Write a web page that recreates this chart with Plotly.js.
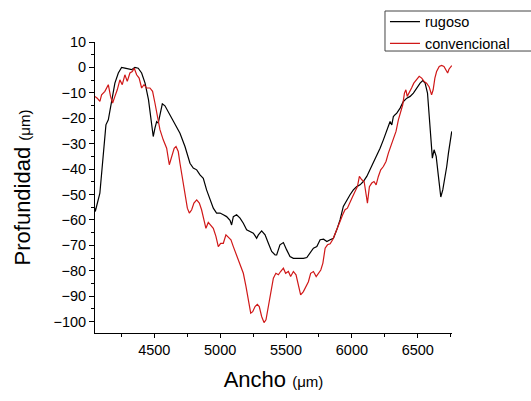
<!DOCTYPE html>
<html>
<head>
<meta charset="utf-8">
<script src="https://cdn.plot.ly/plotly-3.0.1.min.js"></script>
<style>html,body{margin:0;padding:0;background:#fff;}#chart{width:531px;height:401px;}</style>
</head>
<body>
<div id="chart"></div>
<script>
const rugosoX = [4049,4052,4087,4113,4133,4151,4176,4201,4227,4252,4277,4303,4328,4353,4378,4404,4430,4456,4472,4492,4505,4518,4530,4543,4561,4581,4619,4657,4695,4733,4771,4796,4822,4847,4872,4897,4923,4948,4973,4999,5024,5049,5075,5087,5100,5125,5151,5176,5201,5227,5252,5277,5290,5315,5341,5366,5391,5417,5429,5454,5480,5505,5530,5556,5581,5606,5632,5658,5683,5708,5734,5759,5785,5810,5835,5860,5885,5910,5935,5961,5986,6011,6037,6062,6087,6113,6138,6163,6189,6214,6239,6265,6290,6303,6315,6328,6341,6366,6391,6417,6442,6467,6492,6518,6538,6556,6574,6589,6599,6611,6624,6640,6657,6675,6690,6708,6720,6733,6746,6758];
const rugosoY = [-55.4,-56.7,-49.5,-35,-22.6,-20.6,-12.7,-6.2,-2.2,0,-0.3,-0.7,-0.9,0,-0.3,-2.2,-6.2,-12.7,-19.3,-27.2,-23.9,-21.3,-21.9,-18,-14.3,-15.1,-18.6,-22.6,-25.9,-31.1,-37.7,-39.6,-40.3,-42.3,-43.6,-48.2,-52.1,-55.4,-57.3,-57.3,-58,-58.7,-60.2,-62,-58.7,-58,-59.3,-61.3,-63.9,-64.6,-65.2,-67.2,-65.9,-64.3,-65.9,-69.2,-72.4,-73.8,-73.8,-69.8,-68.9,-71.8,-74.4,-75.1,-75.1,-75.3,-75.1,-74.8,-73.1,-71.1,-70.5,-67.8,-67.6,-68.5,-67.8,-67.2,-63.9,-60,-54.7,-52.1,-50.1,-48.2,-46.9,-46.2,-44.9,-42.9,-40.3,-37.7,-35,-31.8,-28.5,-24.5,-21.3,-22.6,-19.3,-18.6,-18,-16,-13.4,-12.1,-11.4,-10.1,-8.1,-6.2,-5.2,-6.2,-10.1,-19.3,-28.5,-35.7,-32.4,-35,-42.9,-51,-48.2,-42.9,-39,-33.7,-28.5,-25.2];

const convX = [4049,4067,4087,4100,4125,4151,4168,4184,4201,4219,4239,4257,4277,4295,4315,4333,4348,4366,4385,4404,4422,4442,4467,4487,4505,4523,4543,4568,4594,4614,4632,4651,4665,4682,4695,4715,4733,4751,4766,4784,4801,4822,4842,4859,4877,4892,4910,4928,4948,4968,4986,5004,5024,5044,5062,5082,5100,5125,5151,5176,5196,5214,5232,5247,5265,5282,5297,5315,5333,5348,5366,5384,5404,5423,5442,5459,5480,5497,5518,5535,5556,5576,5594,5611,5632,5652,5670,5687,5708,5729,5746,5764,5780,5797,5815,5835,5856,5873,5891,5910,5930,5948,5966,5986,6006,6024,6042,6057,6075,6093,6105,6118,6133,6151,6168,6184,6201,6219,6239,6259,6277,6295,6315,6335,6353,6371,6386,6399,6410,6420,6435,6453,6470,6491,6511,6530,6548,6567,6587,6605,6617,6630,6643,6663,6681,6699,6714,6727,6737,6749,6758];
const convY = [-11.4,-12.1,-13.4,-10.8,-9.4,-6.8,-11.4,-14,-11.4,-8.8,-4.9,-6.8,-2.9,-5.5,-2.2,-1.6,-0.3,-2.9,-4.2,-8.1,-6.8,-8.1,-8.1,-9.4,-14,-19.3,-24.5,-28.5,-31.8,-38.3,-35,-31.8,-31.1,-33.1,-37.7,-44.2,-50.8,-55.4,-57.3,-56,-53.4,-52.1,-53.4,-56,-60,-63.3,-61,-61.9,-63.3,-66.5,-70.5,-69.2,-69.2,-65.9,-66.8,-67.8,-70.5,-73.8,-77,-81,-86.2,-92.1,-96.7,-96.1,-94.1,-93.2,-94.1,-98,-100.4,-99.3,-94.1,-88.2,-82.9,-81,-81.6,-80.3,-79,-81,-80.3,-82.3,-80.3,-81.6,-86.2,-89.5,-88.2,-86.2,-84.3,-81,-80.3,-82.3,-81,-79.7,-77,-71.1,-69.8,-69.4,-67.6,-65.2,-62.6,-60.6,-58,-56,-55.4,-53.4,-50.8,-48.8,-46.9,-42.9,-44.2,-44.9,-48.8,-53.4,-46.9,-45.5,-44.9,-46.2,-42.9,-40.3,-39,-37,-33.7,-31.1,-28.5,-25.2,-20.6,-16.7,-14.7,-10.1,-8.8,-11.4,-10.1,-8.1,-6.2,-4.9,-3.5,-4.2,-5.5,-6.2,-7.7,-10.8,-8.8,-4.2,-1.6,0.4,0.8,0.4,-0.9,-2.2,-0.7,0.4,0.7];

const seriesNames = ["rugoso", "convencional"];

const traces = [
  {x: rugosoX, y: rugosoY, name: seriesNames[0], type: "scatter", mode: "lines",
   line: {color: "#000000", width: 1.2}},
  {x: convX, y: convY, name: seriesNames[1], type: "scatter", mode: "lines",
   line: {color: "#d01818", width: 1.2}}
];

const font = "Liberation Sans, Arial, sans-serif";

const layout = {
  width: 531, height: 401,
  margin: {l: 95, r: 79, t: 42, b: 68, autoexpand: false},
  paper_bgcolor: "#ffffff", plot_bgcolor: "#ffffff",
  font: {family: font, color: "#000"},
  showlegend: true,
  legend: {xref: "container", yref: "container", x: 0.725, y: 0.986, xanchor: "left", yanchor: "top",
           borderwidth: 0, bgcolor: "rgba(0,0,0,0)",
           font: {family: font, size: 14.5, color: "#000"},
           tracegroupgap: 0, itemwidth: 30},
  shapes: [
    {type: "rect", xref: "paper", yref: "paper", x0: 0.8123, x1: 1.3, y0: 0.969, y1: 1.1065,
     line: {color: "#444", width: 1}, fillcolor: "rgba(0,0,0,0)", layer: "below"}
  ],
  xaxis: {
    range: [4050, 6760], dtick: 500, tick0: 4500,
    showgrid: false, zeroline: false, showline: true, linecolor: "#000", linewidth: 1,
    ticks: "outside", ticklen: 4, tickcolor: "#000",
    minor: {dtick: 250, ticks: "outside", ticklen: 3, tickcolor: "#000", showgrid: false},
    tickfont: {family: font, size: 14.5, color: "#000"},
    title: {text: "Ancho <span style='font-size:15px'>(μm)</span>", font: {family: font, size: 22, color: "#000"}, standoff: 14}
  },
  yaxis: {
    range: [-104.5, 10], dtick: 10, tick0: 0,
    showgrid: false, zeroline: false, showline: true, linecolor: "#000", linewidth: 1,
    ticks: "outside", ticklen: 5, tickcolor: "#000",
    minor: {dtick: 5, ticks: "outside", ticklen: 3, tickcolor: "#000", showgrid: false},
    tickfont: {family: font, size: 14.5, color: "#000"},
    title: {text: "Profundidad <span style='font-size:15px'>(μm)</span>", font: {family: font, size: 22, color: "#000"}, standoff: 16}
  }
};

Plotly.newPlot("chart", traces, layout, {displayModeBar: false, staticPlot: true});
</script>
</body>
</html>
